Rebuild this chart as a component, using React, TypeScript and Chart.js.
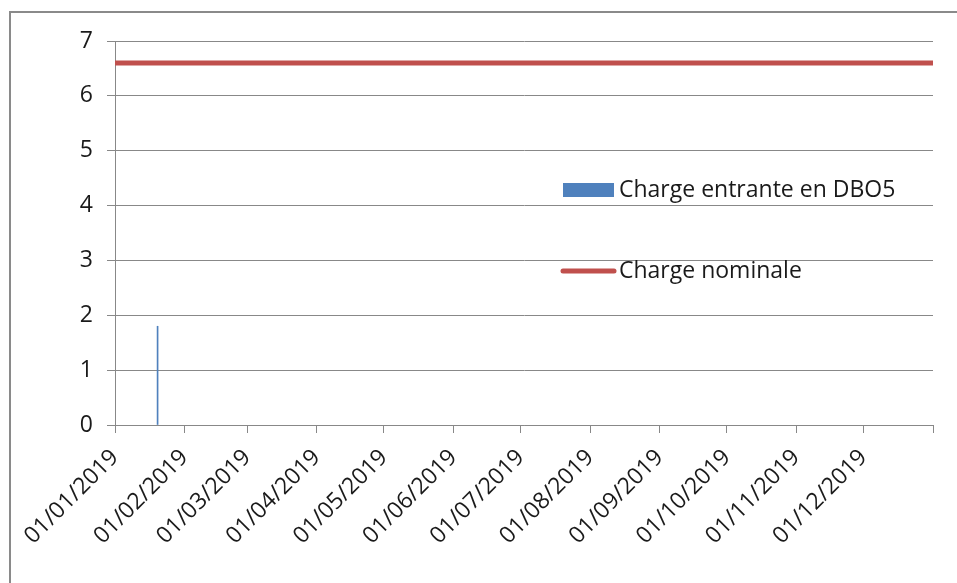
import React, { useEffect, useRef } from "react";
import { Chart, registerables } from "chart.js";

Chart.register(...registerables);

// ---- data ----
const tickLabels = [
  "01/01/2019", "01/02/2019", "01/03/2019", "01/04/2019", "01/05/2019", "01/06/2019",
  "01/07/2019", "01/08/2019", "01/09/2019", "01/10/2019", "01/11/2019", "01/12/2019", "",
];
const tickDates = [
  "2019-01-01", "2019-02-01", "2019-03-01", "2019-04-01", "2019-05-01", "2019-06-01",
  "2019-07-01", "2019-08-01", "2019-09-01", "2019-10-01", "2019-11-01", "2019-12-01", "2020-01-01",
];
const chargeDates = ["2019-01-20"];
const chargeValues = [1.8];
const nominalDates = ["2019-01-01", "2020-01-01"];
const nominalValues = [6.6, 6.6];
const seriesNames = ["Charge entrante en DBO5", "Charge nominale"];
const yTicks = [0, 1, 2, 3, 4, 5, 6, 7];

const DAY = 86400000;
const origin = Date.UTC(2019, 0, 1);
const toDay = (s: string) => {
  const [y, m, d] = s.split("-").map(Number);
  return Math.round((Date.UTC(y, m - 1, d) - origin) / DAY);
};
const tickDays = tickDates.map(toDay);

const FONT = "'Open Sans', 'DejaVu Sans', sans-serif";

const legendPlugin = {
  id: "insideLegend",
  afterDraw(chart: any) {
    const ctx = chart.ctx;
    ctx.save();
    ctx.font = `23px ${FONT}`;
    ctx.textBaseline = "middle";
    ctx.textAlign = "left";
    ctx.fillStyle = "#4F81BD";
    ctx.fillRect(563, 183, 51, 14);
    ctx.fillStyle = "#1a1a1a";
    ctx.fillText(chart.data.datasets[0].label, 619, 190);
    ctx.strokeStyle = "#C0504D";
    ctx.lineWidth = 5;
    ctx.lineCap = "round";
    ctx.beginPath();
    ctx.moveTo(563, 271);
    ctx.lineTo(614, 271);
    ctx.stroke();
    ctx.fillText(chart.data.datasets[1].label, 619, 271);
    ctx.restore();
  },
};

export default function App() {
  const ref = useRef<HTMLCanvasElement | null>(null);

  useEffect(() => {
    if (!ref.current) return;
    const chart = new Chart(ref.current, {
      type: "bar",
      data: {
        datasets: [
          {
            type: "bar",
            label: seriesNames[0],
            data: chargeDates.map((d, i) => ({ x: toDay(d), y: chargeValues[i] })),
            backgroundColor: "#4F81BD",
            barThickness: 1,
            order: 2,
          } as any,
          {
            type: "line",
            label: seriesNames[1],
            data: nominalDates.map((d, i) => ({ x: toDay(d), y: nominalValues[i] })),
            borderColor: "#C0504D",
            borderWidth: 5,
            pointRadius: 0,
            fill: false,
            order: 1,
          } as any,
        ],
      },
      options: {
        responsive: false,
        animation: false,
        devicePixelRatio: 1,
        layout: { padding: { left: 0, top: 41, right: 24, bottom: 0 } },
        plugins: { legend: { display: false }, tooltip: { enabled: false } },
        scales: {
          x: {
            type: "linear",
            min: tickDays[0],
            max: tickDays[tickDays.length - 1],
            offset: false,
            afterBuildTicks: (scale: any) => {
              scale.ticks = tickDays.map((v) => ({ value: v }));
            },
            afterFit: (scale: any) => {
              scale.height = 158;
              scale.paddingRight = 0;
              scale.paddingLeft = 0;
            },
            ticks: {
              autoSkip: false,
              maxRotation: 45,
              minRotation: 45,
              padding: 11,
              color: "#1a1a1a",
              font: { family: FONT, size: 23 },
              callback: (v: any) => {
                const i = tickDays.indexOf(Number(v));
                return i >= 0 ? tickLabels[i] : "";
              },
            },
            grid: {
              offset: false,
              drawOnChartArea: false,
              drawTicks: true,
              tickLength: 8,
              color: "#888888",
            },
            border: { color: "#888888", width: 1 },
          },
          y: {
            type: "linear",
            min: yTicks[0],
            max: yTicks[yTicks.length - 1],
            afterBuildTicks: (scale: any) => {
              scale.ticks = yTicks.map((v) => ({ value: v }));
            },
            afterFit: (scale: any) => {
              scale.width = 115;
            },
            ticks: {
              padding: 14,
              color: "#1a1a1a",
              font: { family: FONT, size: 23 },
            },
            grid: { color: "#888888", tickLength: 8, drawTicks: true },
            border: { color: "#888888", width: 1 },
          },
        },
      },
      plugins: [legendPlugin],
    } as any);
    return () => chart.destroy();
  }, []);

  return (
    <div
      style={{
        position: "fixed",
        left: 0,
        top: 0,
        width: 957,
        height: 583,
        overflow: "hidden",
        background: "#fff",
      }}
    >
      <div
        style={{
          position: "absolute",
          left: 9,
          top: 11,
          width: 1000,
          height: 1000,
          border: "2px solid #8a8a8a",
          boxSizing: "border-box",
        }}
      />
      <canvas
        ref={ref}
        width={957}
        height={583}
        style={{ position: "absolute", left: 0, top: 0, width: 957, height: 583 }}
      />
    </div>
  );
}
